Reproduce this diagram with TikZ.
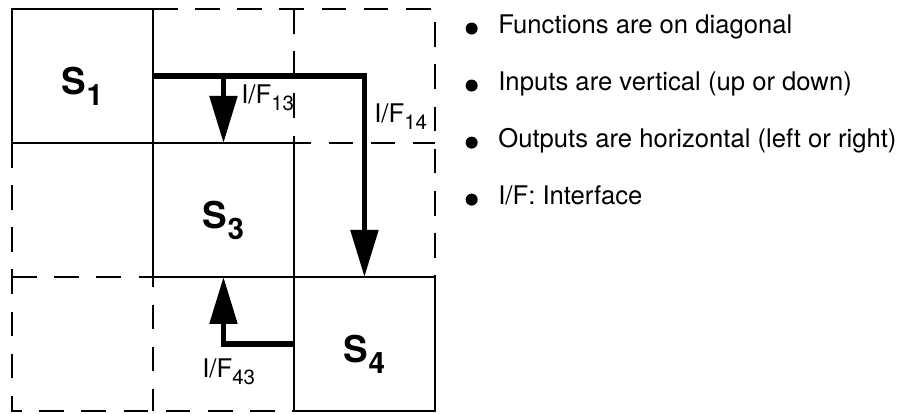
\documentclass[tikz,border=0pt]{standalone}
\usepackage{fontspec}
\setmainfont{TeX Gyre Heros}
\usepackage{graphicx}
\usepackage{tikz}
\usetikzlibrary{arrows.meta,positioning}
\newcommand{\fsub}[1]{\raisebox{-0.3em}{\scalebox{0.8}{#1}}}

\begin{document}
\begin{tikzpicture}[
    x=0.02cm, y=-0.02cm,
    cell/.style={rectangle, draw=black, line width=1.1pt, minimum width=2.82cm, minimum height=2.68cm, inner sep=0pt, outer sep=0pt},
    fnlbl/.style={font=\fontsize{21}{21}\selectfont\bfseries, inner sep=0pt, yshift=-0.21cm},
    dashline/.style={line width=1.1pt, dash pattern=on 14pt off 10pt},
    ifarrow/.style={-{Triangle[length=0.94cm, width=0.54cm]}, line width=3pt},
    iflbl/.style={font=\fontsize{14.6}{16}\selectfont, inner sep=0pt, anchor=base west},
    note/.style={font=\fontsize{14.6}{16}\selectfont, inner sep=0pt, text height=0.72em, text depth=0.21em},
    dot/.style={circle, fill=black, minimum size=0.24cm, inner sep=0pt}
]
  \useasboundingbox (0,0) rectangle (917,413);

  % Functions on the diagonal
  \node[cell, label={[fnlbl]center:S\fsub{1}}] (s1) at (82.5,76) {};
  \node[cell, below right=0cm and 0cm of s1, label={[fnlbl]center:S\fsub{3}}] (s3) {};
  \node[cell, below right=0cm and 0cm of s3, label={[fnlbl]center:S\fsub{4}}] (s4) {};

  % Empty cells
  \draw[dashline] (s1.north east) -- (s4.north east |- s1.north) -- (s4.north east);
  \draw[dashline] (s3.north east |- s1.north) -- (s3.north east) -- (s4.east |- s3.north);
  \draw[dashline] (s1.south west) -- (s1.west |- s4.south) -- (s4.south west);
  \draw[dashline] (s1.west |- s3.south) -- (s3.south west) -- (s3.west |- s4.south);

  % Interfaces
  \draw[ifarrow] (s1.east) -| (s4.north);
  \draw[ifarrow] (s3.north |- s1.east) -- (s3.north);
  \draw[ifarrow] (s4.west) -| (s3.south);
  \node[iflbl] (if13) at (241,103) {I/F\fsub{13}};
  \node[iflbl] (if14) at (374,122) {I/F\fsub{14}};
  \node[iflbl] (if43) at (202,377) {I/F\fsub{43}};

  % Notes on the right
  \node[note, anchor=base west] (n1) at (498,33) {Functions are on diagonal};
  \node[note, below right=0.8cm and 0cm of n1.south west] (n2) {Inputs are vertical (up or down)};
  \node[note, below right=0.8cm and 0cm of n2.south west] (n3) {Outputs are horizontal (left or right)};
  \node[note, below right=0.8cm and 0cm of n3.south west] (n4) {I/F: Interface};
  \node[dot, left=0.4cm of n1] (d1) {};
  \node[dot, left=0.4cm of n2] (d2) {};
  \node[dot, left=0.4cm of n3] (d3) {};
  \node[dot, left=0.4cm of n4] (d4) {};
\end{tikzpicture}
\end{document}
